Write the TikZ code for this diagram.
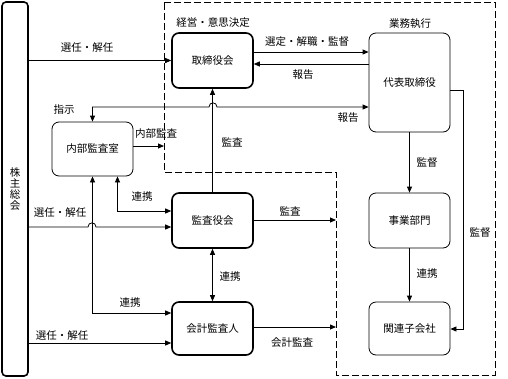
\documentclass[tikz,border=0pt]{standalone}
\usepackage{fontspec}
\newfontfamily\jp{Noto Sans CJK JP}
\usetikzlibrary{arrows.meta}
\begin{document}
\begin{tikzpicture}[x=1pt,y=-1pt, font=\jp\fontsize{10.5}{11.2}\selectfont,
 box/.style={draw, rounded corners=7pt, line width=0.8pt, minimum width=81pt, minimum height=55pt, inner sep=0pt},
 tbox/.style={box, line width=1.6pt},
 arr/.style={line width=0.8pt, -{Triangle[length=6pt,width=5pt]}},
 darr/.style={line width=0.8pt, {Triangle[length=6pt,width=5pt]}-{Triangle[length=6pt,width=5pt]}},
 lbl/.style={inner sep=1pt},
 region/.style={line width=1pt, dash pattern=on 7pt off 3pt}]
\useasboundingbox (0,0) rectangle (508,378);

\draw[region] (164,2) -- (495,2) -- (495,375) -- (336,375) -- (336,172) -- (164,172) -- cycle;

\node[draw, line width=1.6pt, rounded corners=4pt, minimum width=26pt, minimum height=374pt, inner sep=0pt, align=center] (kabu) at (15,189) {株\\主\\総\\会};

\node[tbox] (tori) at (212.5,60.5) {取締役会};
\node[box, minimum height=99pt] (daihyo) at (409.5,82.5) {代表取締役};
\node[box, minimum height=54pt] (naibu) at (92.5,149) {内部監査室};
\node[tbox] (kansa) at (212.5,220.5) {監査役会};
\node[tbox, minimum height=53pt] (kaikei) at (212.5,328.5) {会計監査人};
\node[box] (jigyo) at (409.5,220.5) {事業部門};
\node[box, minimum height=53pt] (kanren) at (409.5,328.5) {関連子会社};

\node[lbl] (l1) at (213,23) {経営・意思決定};
\node[lbl] (l2) at (410,24) {業務執行};

% shareholders
\draw[arr] (kabu.east |- tori.west) -- (tori.west);
\node[lbl] (l3) at (87,48) {選任・解任};
\draw[arr] (kabu.east |- 0,227) -- (88,227) .. controls (88,221.5) and (96,221.5) .. (96,227) -- (kansa.west |- 0,227);
\node[lbl] (l4) at (60,213) {選任・解任};
\draw[arr] (kabu.east |- 0,343) -- (kaikei.west |- 0,343);
\node[lbl] (l5) at (62,336) {選任・解任};

% board <-> representative
\draw[arr] (tori.east |- 0,52) -- (daihyo.west |- 0,52);
\node[lbl] (l6) at (307,42) {選定・解職・監督};
\draw[arr] (daihyo.west |- 0,64) -- (tori.east |- 0,64);
\node[lbl] (l7) at (303,75) {報告};

% instruction / report
\draw[darr] (naibu.north) |- (209,107) .. controls (209,101.5) and (217,101.5) .. (217,107) -- (daihyo.west |- 0,107);
\node[lbl] (l8) at (64,110) {指示};
\node[lbl] (l9) at (348,118) {報告};

% internal audit
\draw[arr] (naibu.east |- 0,146) -- (164,146);
\node[lbl] (l10) at (156,134) {内部監査};

% audit to board
\draw[arr] (kansa.north) -- (tori.south);
\node[lbl] (l11) at (232,142) {監査};

% cooperation
\draw[darr] ([xshift=25pt]naibu.south) |- (kansa.west |- 0,211);
\node[lbl] (l12) at (142,197) {連携};
\draw[darr] (naibu.south) |- (kaikei.west |- 0,313);
\node[lbl] (l13) at (130,303) {連携};
\draw[darr] (kansa.south) -- (kaikei.north);
\node[lbl] (l14) at (230,277) {連携};

% audits to execution area
\draw[arr] (kansa.east |- 0,220) -- (336,220);
\node[lbl] (l15) at (290,211) {監査};
\draw[arr] (kaikei.east |- 0,327) -- (336,327);
\node[lbl] (l16) at (292,343) {会計監査};

% execution
\draw[arr] (daihyo.south) -- (jigyo.north);
\node[lbl] (l17) at (427,163) {監督};
\draw[arr] (jigyo.south) -- (kanren.north);
\node[lbl] (l18) at (427,274) {連携};
\draw[arr] (daihyo.east |- 0,90) -- (463,90) -- (463,329) -- (kanren.east |- 0,329);
\node[lbl] (l19) at (480,233) {監督};
\end{tikzpicture}
\end{document}
